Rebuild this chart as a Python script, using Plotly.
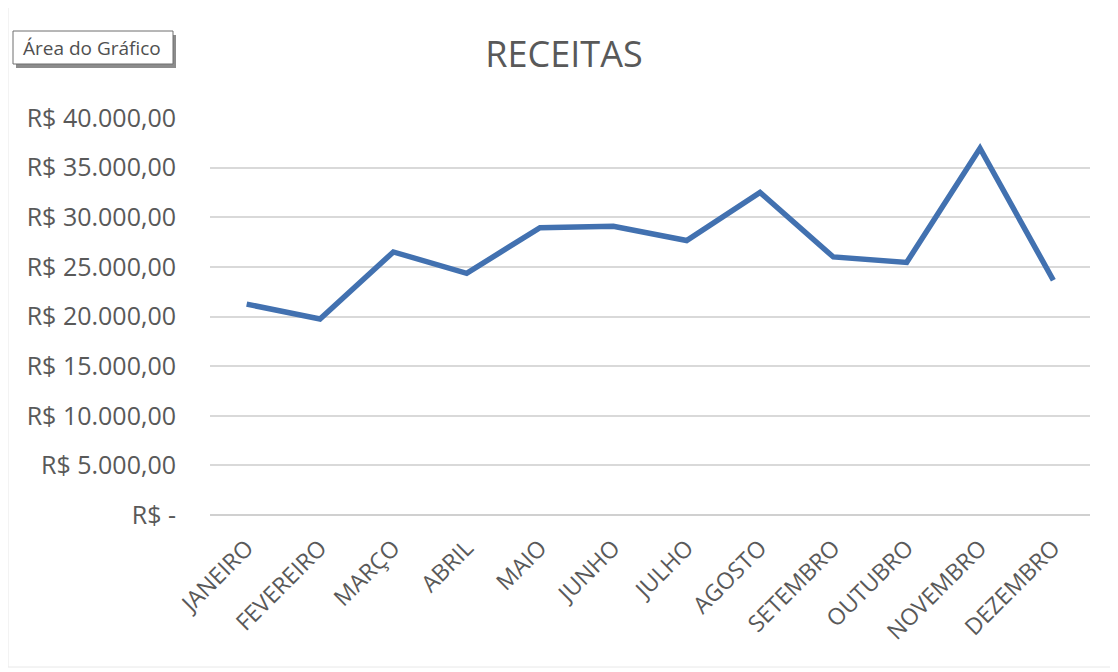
import plotly.graph_objects as go

# receitas mensais
meses = ["JANEIRO", "FEVEREIRO", "MARÇO", "ABRIL", "MAIO", "JUNHO",
         "JULHO", "AGOSTO", "SETEMBRO", "OUTUBRO", "NOVEMBRO", "DEZEMBRO"]
receitas = [21250, 19750, 26500, 24350, 28950, 29100,
            27650, 32500, 26000, 25450, 36950, 23650]

tick_vals = [0, 5000, 10000, 15000, 20000, 25000, 30000, 35000, 40000]
tick_txt = ["R$ -", "R$ 5.000,00", "R$ 10.000,00", "R$ 15.000,00",
            "R$ 20.000,00", "R$ 25.000,00", "R$ 30.000,00",
            "R$ 35.000,00", "R$ 40.000,00"]

CINZA = "#595959"
FONTE = "Open Sans"

# a página tem margem de 8 px no body -> tudo deslocado
OFF = 8
W, H = 1118 - OFF, 672 - OFF
# área do gráfico (px da tela) x 210..1090, y 117..515
L, T = 210 - OFF, 117 - OFF
R, B = W - (1090 - OFF), H - (515 - OFF)
pw, ph = W - L - R, H - T - B


def px2paper(x, y):
    # coordenadas da tela -> paper
    return (x - OFF - L) / pw, 1 - (y - OFF - T) / ph


fig = go.Figure(go.Scatter(
    x=meses, y=receitas, mode="lines",
    line=dict(color="#4271B0", width=5.5),
    hoverinfo="x+y"))

fig.update_layout(
    width=W, height=H,
    margin=dict(l=L, r=R, t=T, b=B, autoexpand=False),
    paper_bgcolor="white", plot_bgcolor="white",
    font=dict(family=FONTE, color=CINZA),
    showlegend=False,
    title=dict(text="RECEITAS", xref="container", x=(564 - OFF) / W,
               xanchor="center", yref="container", y=1 - (54 - OFF) / H,
               yanchor="middle",
               font=dict(size=36, color=CINZA, family=FONTE)),
    xaxis=dict(showgrid=False, showline=False, ticks="",
               range=[-0.5, len(meses) - 0.5], automargin=False,
               tickangle=-45, tickfont=dict(size=23, color=CINZA),
               ticklabelstandoff=14, fixedrange=True),
    yaxis=dict(range=[0, 40100], tickvals=tick_vals, ticktext=tick_txt,
               showgrid=True, gridcolor="#D9D9D9", gridwidth=1.5,
               zeroline=True, zerolinecolor="#D0D0D0", zerolinewidth=1.5,
               showline=False, ticks="", automargin=False,
               tickfont=dict(size=25, color=CINZA),
               ticklabelstandoff=33, fixedrange=True),
)

# caixa "Área do Gráfico" (dica do Excel) com sombra
x0, y0 = px2paper(13, 64)
x1, y1 = px2paper(173, 31)
sx0, sy0 = px2paper(16, 68)
sx1, sy1 = px2paper(176, 35)
fig.add_shape(type="rect", xref="paper", yref="paper",
              x0=sx0, y0=sy0, x1=sx1, y1=sy1,
              fillcolor="#8c8c8c", line=dict(width=0), layer="above")
fig.add_shape(type="rect", xref="paper", yref="paper",
              x0=x0, y0=y0, x1=x1, y1=y1,
              fillcolor="white", line=dict(color="#6f6f6f", width=1),
              layer="above")
tx, ty = px2paper(92, 48)
fig.add_annotation(xref="paper", yref="paper", x=tx, y=ty,
                   text="Área do Gráfico", showarrow=False,
                   font=dict(size=19, color="#505050", family=FONTE),
                   xanchor="center", yanchor="middle")

# borda clara da área do gráfico
bx0, by0 = px2paper(8, 667)
bx1, by1 = px2paper(1115, 7)
fig.add_shape(type="rect", xref="paper", yref="paper",
              x0=bx0, y0=by0, x1=bx1, y1=by1,
              fillcolor="rgba(0,0,0,0)", line=dict(color="#E8E8E8", width=1),
              layer="below")

fig.write_html("out.html")
